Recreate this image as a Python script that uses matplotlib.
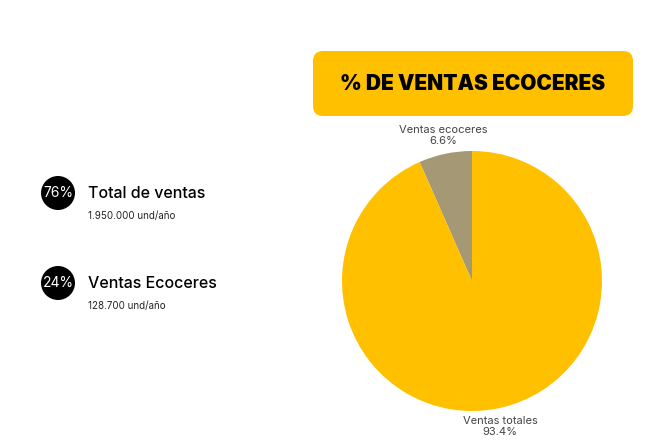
import numpy as np
import matplotlib.pyplot as plt
from matplotlib.patches import FancyBboxPatch, Circle

# pie data
labels = ["Ventas ecoceres", "Ventas totales"]
values = [6.6, 93.4]
colors = ["#A59875", "#FFC000"]

# side indicators
kpi_pct = ["76%", "24%"]
kpi_title = ["Total de ventas", "Ventas Ecoceres"]
kpi_sub = ["1.950.000 und/año", "128.700 und/año"]

title = "% DE VENTAS ECOCERES"

W, H = 650, 447
fig = plt.figure(figsize=(6.5, 4.47), dpi=100)
fig.patch.set_facecolor("white")

# background axes in pixel coords
bg = fig.add_axes([0, 0, 1, 1])
bg.set_xlim(0, W)
bg.set_ylim(H, 0)
bg.axis("off")

# title box
box = FancyBboxPatch((313, 51), 320, 65, boxstyle="round,pad=0,rounding_size=10",
                     facecolor="#FFC000", edgecolor="none")
bg.add_patch(box)
bg.text(473, 84, title, ha="center", va="center", fontsize=15,
        fontweight="black", family="Inter", color="black")

# left indicators
ys = [193, 283]
for i in range(len(kpi_pct)):
    y = ys[i]
    bg.add_patch(Circle((58, y), 17, facecolor="black", edgecolor="none"))
    bg.text(58, y, kpi_pct[i], ha="center", va="center", color="white",
            fontsize=10, family="Inter")
    bg.text(88, y, kpi_title[i], ha="left", va="center", color="black",
            fontsize=11.5, family="Inter", fontweight="medium")
    bg.text(88, y + 23, kpi_sub[i], ha="left", va="center", color="#222222",
            fontsize=7, family="Inter")

# pie
cx, cy, r = 472, 281, 130
ax = fig.add_axes([(cx - r) / W, (H - cy - r) / H, 2 * r / W, 2 * r / H])
wedges, _ = ax.pie(values, colors=colors, startangle=90, counterclock=True,
                   radius=1, wedgeprops=dict(linewidth=0))
ax.set_xlim(-1, 1)
ax.set_ylim(-1, 1)
ax.set_aspect("equal")

for w, lab, v in zip(wedges, labels, values):
    ang = np.deg2rad((w.theta1 + w.theta2) / 2)
    x = 1.06 * np.cos(ang)
    y = 1.06 * np.sin(ang)
    va = "bottom" if y > 0 else "top"
    ax.text(x, y, f"{lab}\n{v}%", ha="center", va=va, fontsize=8,
            color="#444444", family="Inter", linespacing=1.1)

fig.savefig("out.png", dpi=100)
